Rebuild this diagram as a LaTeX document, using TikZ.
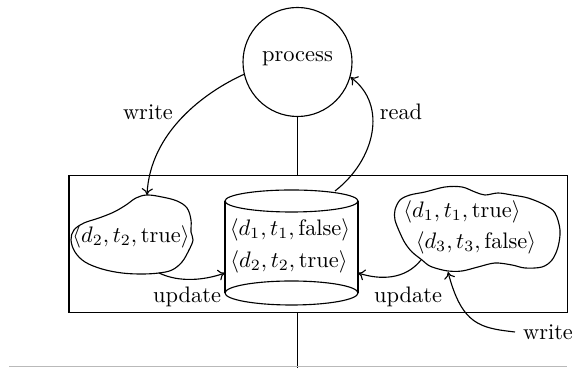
\documentclass[tikz,border=0pt]{standalone}
\usetikzlibrary{arrows.meta}
\begin{document}
\begin{tikzpicture}[x=0.446pt, y=-0.446pt, line width=0.5pt,
  txt/.style={inner sep=0pt, anchor=center},
  conn/.style={-{To[length=3pt,width=5pt]}}]
\useasboundingbox (0,0) rectangle (577,368);

% process circle
\node[circle, draw, minimum size=109*0.446pt, inner sep=0pt] (proc) at (297.5,62) {};
\node[txt] (proclabel) at (297.5,59) {process};

% store box
\node[draw, line width=0.45pt, minimum width=498*0.446pt, minimum height=137*0.446pt, inner sep=0pt] (store) at (318,244.5) {};
\coordinate (base) at (297.5,368);
\coordinate (gl) at (9,366.5);
\coordinate (gr) at (567,366.5);
\draw (proc.south) -- (proc.south |- store.north);
\draw (proc.south |- store.south) -- (base);
\draw[gray!55] (gl) -- (gr);

% cylinder
\coordinate (cyltop) at (291.5,201);
\coordinate (cylbot) at (291.5,293);
\coordinate (cylTL) at (225,201);
\coordinate (cylBL) at (225,293);
\coordinate (cylTR) at (358,201);
\coordinate (cylBR) at (358,293);
\draw (cyltop) ellipse [x radius=66.5, y radius=11];
\draw (cylbot) ellipse [x radius=66.5, y radius=12];
\draw (cylTL) -- (cylBL);
\draw (cylTR) -- (cylBR);
\node[txt] (c1) at (290,230) {$\langle d_1, t_1, \mathrm{false}\rangle$};
\node[txt] (c2) at (289,262) {$\langle d_2, t_2, \mathrm{true}\rangle$};
\coordinate (cylL) at (225,273);
\coordinate (cylR) at (358,273);
\coordinate (rdstart) at (335,191);

% left cloud
\draw plot[smooth cycle, tension=0.6] coordinates {
 (147,195) (162,197) (177,201) (187,208) (191,220) (191,232)
 (193,240) (189,250) (182,262) (172,270) (159,273) (142,274) (122,273)
 (102,269) (85,262) (75,252) (71,240) (74,230) (84,223) (99,218)
 (114,212) (126,205) (136,198)};
\node[txt] (l1) at (131,237) {$\langle d_2, t_2, \mathrm{true}\rangle$};
\coordinate (lctop) at (147,195);
\coordinate (lcbot) at (159,273);

% right cloud
\draw plot[smooth cycle, tension=0.55] coordinates {
 (395,210) (400,200) (410,195) (425,192) (445,187) (462,187) (475,192)
 (485,195) (498,193) (512,195) (528,198) (545,205) (555,213) (560,230)
 (558,247) (552,260) (542,267) (525,268) (512,265) (495,263) (478,267)
 (462,271) (448,271) (435,268) (428,265) (422,260) (412,252) (405,243)
 (400,233) (395,220)};
\node[txt] (r1) at (462,212) {$\langle d_1, t_1, \mathrm{true}\rangle$};
\node[txt] (r2) at (476,243) {$\langle d_3, t_3, \mathrm{false}\rangle$};
\coordinate (rcbot) at (421,260);
\coordinate (rcb2) at (448,272);

% connectors
\draw[conn] (proc.193) .. controls (205,92) and (150,132) .. (lctop);
\node[txt] (wlabel) at (148,112) {write};
\draw[conn] (rdstart) .. controls (375,160) and (388,105) .. (proc.-16);
\node[txt] (rlabel) at (401,112) {read};
\draw[conn] (lcbot) .. controls (180,283) and (205,280) .. (cylL);
\node[txt] (u1) at (187,297) {update};
\draw[conn] (rcbot) .. controls (405,280) and (380,280) .. (cylR);
\node[txt] (u2) at (408,297) {update};
\node[anchor=center] (w2) at (548,332) {write};
\draw[conn] (w2.west) .. controls (480,328) and (462,325) .. (rcb2);
\end{tikzpicture}
\end{document}
